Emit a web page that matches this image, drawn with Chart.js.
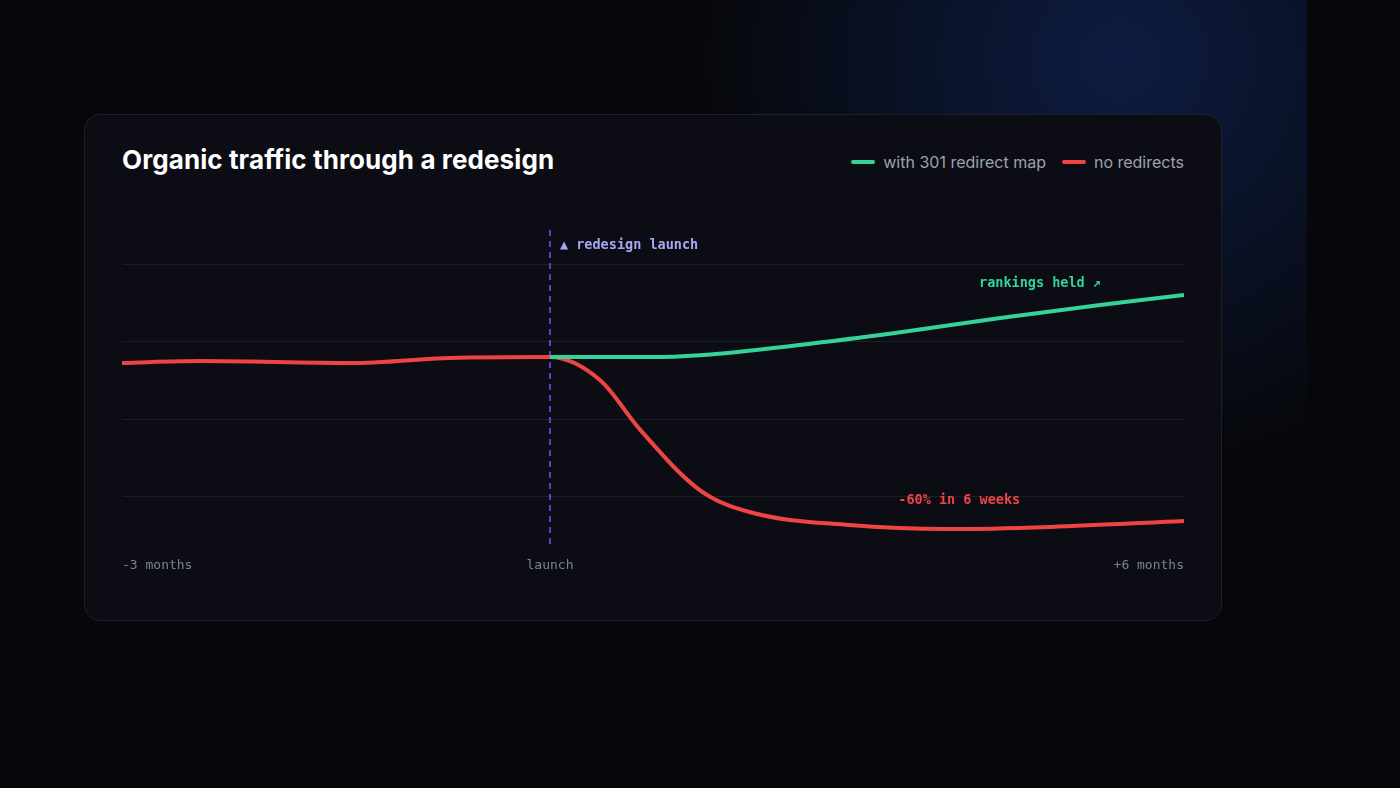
<!DOCTYPE html>
<html>
<head>
<meta charset="utf-8">
<script src="https://cdn.jsdelivr.net/npm/chart.js@4"></script>
<style>
  html, body { margin: 0; width: 1400px; height: 788px; overflow: hidden; }
  body {
    background: radial-gradient(ellipse 430px 420px at 1120px 60px, rgba(20,45,110,0.55), rgba(6,7,10,0) 100%), #06070a;
    font-family: Inter, "Noto Sans", sans-serif;
  }
  .fade { position: absolute; left: 1307px; top: 0; width: 93px; height: 788px; background: #06070a; }
  .card {
    position: absolute; left: 84px; top: 114px; width: 1136px; height: 505px;
    background: #0c0d14; border: 1px solid #1d1f29; border-radius: 16px;
  }
  h1 { position: absolute; left: 122px; top: 144px; margin: 0; color: #fff; font-size: 26px; font-weight: 700; letter-spacing: 0.1px; }
  .legend { position: absolute; right: 216px; top: 152px; display: flex; gap: 16px; color: #9da2ad; font-size: 16px; }
  .legend span { display: flex; align-items: center; }
  .legend i { display: inline-block; width: 24px; height: 4px; border-radius: 2px; margin-right: 8px; }
  #wrap { position: absolute; left: 110px; top: 220px; width: 1090px; height: 360px; }
</style>
</head>
<body>
<div class="fade"></div>
<div class="card"></div>
<h1>Organic traffic through a redesign</h1>
<div class="legend">
  <span><i style="background:#34d399"></i>with 301 redirect map</span>
  <span><i style="background:#ef4444"></i>no redirects</span>
</div>
<div id="wrap"><canvas id="traffic"></canvas></div>
<script>
var launchX = 40.3;
var redX = [0, 7.3, 21.5, 30.9, 40.3, 45, 48.8, 54.4, 59.1, 68.5, 78, 87.4, 100];
var redY = [68.1, 68.7, 68.1, 69.7, 70, 62.6, 46.5, 27.1, 20, 15.8, 14.5, 15.2, 17.1];
var greenX = [40.3, 49.7, 54.4, 63.8, 73.3, 82.7, 92.1, 100];
var greenY = [70, 70, 70.6, 73.9, 78, 82.6, 86.8, 90];
var gridValues = [25, 50, 75, 100];
var tickLabels = ['-3 months', 'launch', '+6 months'];
var tickPositions = [0, launchX, 100];

function pts(xs, ys) {
    return xs.map(function (x, i) { return { x: x, y: ys[i] }; });
}

var mono = '"DejaVu Sans Mono", "Liberation Mono", monospace';

var overlay = {
    id: 'overlay',
    beforeDatasetsDraw: function (chart) {
        var c = chart.ctx, xs = chart.scales.x, a = chart.chartArea;
        var lx = xs.getPixelForValue(launchX);
        c.save();
        c.strokeStyle = '#7c4dff';
        c.lineWidth = 1.5;
        c.setLineDash([6, 5]);
        c.beginPath();
        c.moveTo(lx, a.top);
        c.lineTo(lx, a.bottom);
        c.stroke();
        c.restore();
    },
    afterDatasetsDraw: function (chart) {
        var c = chart.ctx, xs = chart.scales.x, ys = chart.scales.y, a = chart.chartArea;
        c.save();
        c.font = 'bold 13.5px ' + mono;
        c.textBaseline = 'middle';
        c.fillStyle = '#a5a8f5';
        c.fillText('\u25B2 redesign launch', xs.getPixelForValue(launchX) + 10, ys.getPixelForValue(106));
        c.fillStyle = '#34d399';
        c.fillText('rankings held \u2197', xs.getPixelForValue(80.7), ys.getPixelForValue(93.9));
        c.fillStyle = '#ef4444';
        c.fillText('-60% in 6 weeks', xs.getPixelForValue(73.1), ys.getPixelForValue(23.8));
        c.font = '13px ' + mono;
        c.fillStyle = '#7d828e';
        var aligns = ['left', 'center', 'right'];
        tickLabels.forEach(function (t, i) {
            c.textAlign = aligns[i];
            c.fillText(t, xs.getPixelForValue(tickPositions[i]), a.bottom + 18);
        });
        c.restore();
    }
};

var ctx = document.getElementById('traffic');
var traffic = new Chart(ctx, {
    type: 'line',
    data: {
        datasets: [{
            label: 'with 301 redirect map',
            data: pts(greenX, greenY),
            borderColor: '#34d399',
            borderWidth: 4,
            pointRadius: 0,
            cubicInterpolationMode: 'monotone'
        }, {
            label: 'no redirects',
            data: pts(redX, redY),
            borderColor: '#ef4444',
            borderWidth: 4,
            pointRadius: 0,
            cubicInterpolationMode: 'monotone'
        }]
    },
    options: {
        responsive: true,
        maintainAspectRatio: false,
        animation: false,
        layout: { padding: { left: 12, right: 16, top: 10, bottom: 32 } },
        plugins: { legend: { display: false }, tooltip: { enabled: false } },
        scales: {
            x: { type: 'linear', min: 0, max: 100, display: false },
            y: {
                min: 8.4, max: 111,
                afterBuildTicks: function (s) { s.ticks = gridValues.map(function (v) { return { value: v }; }); },
                ticks: { display: false },
                border: { display: false },
                grid: { color: '#1c1e27', lineWidth: 1, drawTicks: false }
            }
        }
    },
    plugins: [overlay]
});
</script>
</body>
</html>
